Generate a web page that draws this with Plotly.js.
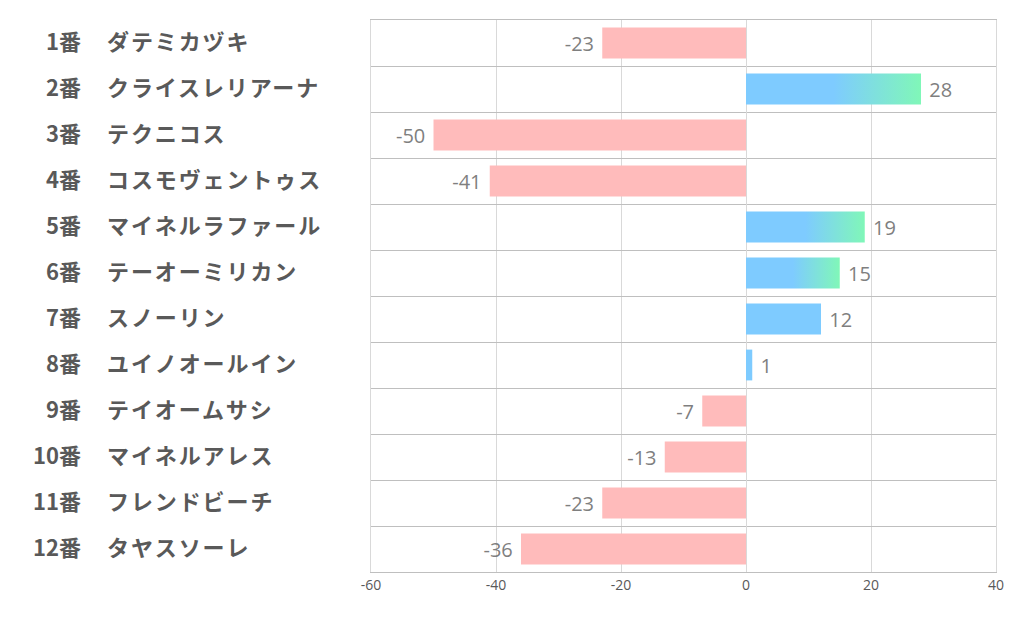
<!DOCTYPE html>
<html>
<head>
<meta charset="utf-8">
<script src="https://cdn.plot.ly/plotly-3.0.1.min.js"></script>
<style>
html,body{margin:0;padding:0;background:#fff;}
#chart{width:1022px;height:626px;}
</style>
</head>
<body>
<div id="chart"></div>
<script>
const numbers = ["1番","2番","3番","4番","5番","6番","7番","8番","9番","10番","11番","12番"];
const names = ["ダテミカヅキ","クライスレリアーナ","テクニコス","コスモヴェントゥス","マイネルラファール","テーオーミリカン","スノーリン","ユイノオールイン","テイオームサシ","マイネルアレス","フレンドビーチ","タヤスソーレ"];
const values = [-23, 28, -50, -41, 19, 15, 12, 1, -7, -13, -23, -36];
const xTicks = [-60, -40, -20, 0, 20, 40];

const PINK = "#FFBBBB", BLUE = "#7ECBFF", GREEN = "#80F7B8";
const GRAD_MIN = 15;

const cats = numbers.map((n, i) => n + " " + names[i]);
const colors = values.map(v => v < 0 ? PINK : BLUE);
const NB = "\u00a0";

const trace = {
  type: "bar",
  orientation: "h",
  x: values,
  y: cats,
  marker: {color: colors, line: {width: 0}},
  text: values.map(v => v < 0 ? String(v) + NB : NB + String(v)),
  textposition: "outside",
  cliponaxis: false,
  textfont: {family: "Open Sans, Noto Sans, sans-serif", size: 20, color: "#7F7F7F"},
  hoverinfo: "none"
};

const LABEL_FONT = {family: "Noto Sans CJK JP, sans-serif", size: 22, color: "#595959", weight: "bold"};
const NAME_LEFT = 107;
const annotations = [];
cats.forEach((c, i) => {
  annotations.push({xref: "paper", yref: "y", x: (83 - 371) / 625, y: c, text: "<b>" + numbers[i] + "</b>",
    showarrow: false, xanchor: "right", yanchor: "middle", font: LABEL_FONT, yshift: 3});
  annotations.push({xref: "paper", yref: "y", x: (NAME_LEFT - 371) / 625, y: c, text: "<b>" + names[i] + "</b>",
    showarrow: false, xanchor: "left", yanchor: "middle", font: LABEL_FONT, yshift: 3});
});

const layout = {
  width: 1022, height: 626,
  margin: {l: 371, r: 26, t: 20, b: 54},
  paper_bgcolor: "#fff", plot_bgcolor: "#fff",
  showlegend: false,
  bargap: 0.33,
  xaxis: {
    range: [-60, 40], tickvals: xTicks, ticktext: xTicks.map(String),
    showgrid: true, gridcolor: "#D9D9D9", gridwidth: 1,
    zeroline: true, zerolinecolor: "#D9D9D9", zerolinewidth: 1,
    showline: true, mirror: true, linecolor: "#BFBFBF", linewidth: 1,
    ticks: "", tickfont: {family: "Open Sans, Noto Sans, sans-serif", size: 14, color: "#595959"},
    fixedrange: true
  },
  yaxis: {
    type: "category", autorange: "reversed",
    tickson: "boundaries", showgrid: true, gridcolor: "#BFBFBF", gridwidth: 1,
    showline: true, mirror: true, linecolor: "#D9D9D9", linewidth: 1,
    showticklabels: false, ticks: "", zeroline: false, fixedrange: true
  },
  annotations: annotations
};

Plotly.newPlot("chart", [trace], layout, {staticPlot: true, displayModeBar: false}).then(gd => {
  const svg = gd.querySelector("svg.main-svg");
  const ns = "http://www.w3.org/2000/svg";
  let defs = svg.querySelector("defs");
  if (!defs) { defs = document.createElementNS(ns, "defs"); svg.insertBefore(defs, svg.firstChild); }
  const grad = document.createElementNS(ns, "linearGradient");
  grad.setAttribute("id", "barGrad");
  grad.setAttribute("x1", "0"); grad.setAttribute("y1", "0");
  grad.setAttribute("x2", "1"); grad.setAttribute("y2", "0");
  [[0, BLUE], [0.5, BLUE], [1, GREEN]].forEach(([o, c]) => {
    const s = document.createElementNS(ns, "stop");
    s.setAttribute("offset", o); s.setAttribute("stop-color", c);
    grad.appendChild(s);
  });
  defs.appendChild(grad);
  const pts = gd.querySelectorAll(".barlayer .trace .point");
  pts.forEach((p, i) => {
    if (values[i] >= GRAD_MIN) {
      const path = p.querySelector("path");
      if (path) path.style.fill = "url(#barGrad)";
    }
  });
  // widen the horse-name labels (odd annotations) and re-align their left edge
  const svgLeft = gd.getBoundingClientRect().left;
  const anns = gd.querySelectorAll(".annotation");
  anns.forEach((a, k) => {
    if (k % 2 === 1) {
      const t = a.querySelector("text");
      if (!t) return;
      t.style.letterSpacing = "1.9px";
      const left = t.getBoundingClientRect().left - svgLeft;
      const dx = NAME_LEFT - left;
      t.setAttribute("transform", "translate(" + dx + ",0)");
    }
  });
});
</script>
</body>
</html>
